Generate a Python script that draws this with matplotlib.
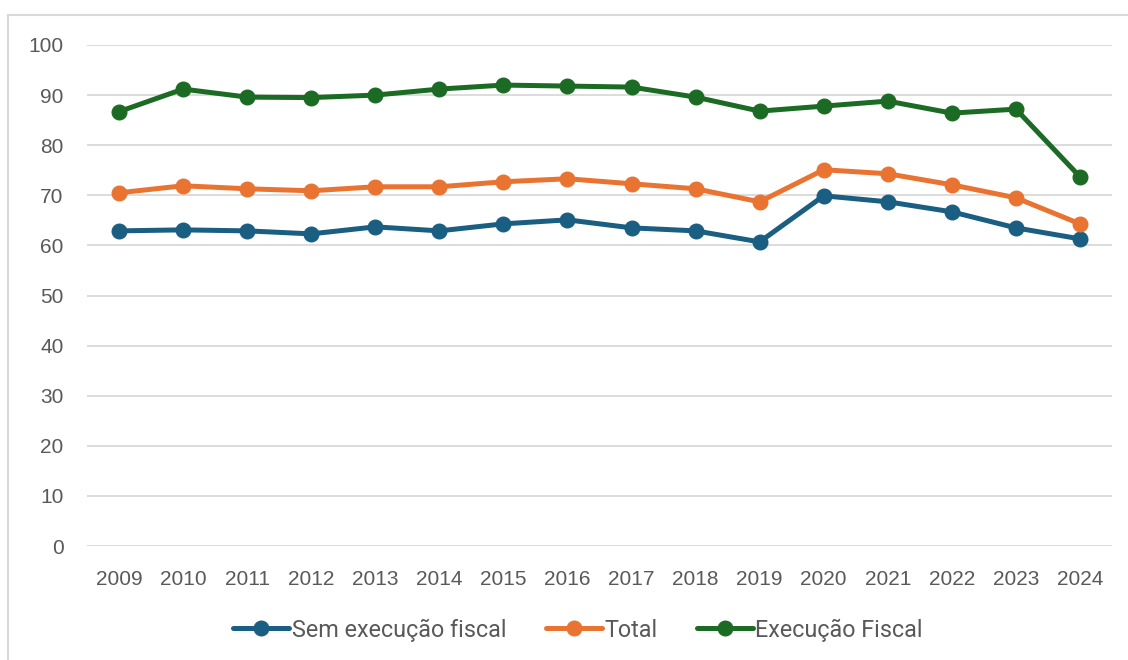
import matplotlib.pyplot as plt
from matplotlib.lines import Line2D

anos = [str(a) for a in range(2009, 2025)]
sem_execucao = [62.9, 63.1, 62.9, 62.3, 63.7, 62.9, 64.3, 65.1, 63.5, 62.9, 60.7, 69.9, 68.7, 66.7, 63.5, 61.3]
total = [70.5, 71.9, 71.3, 70.9, 71.7, 71.7, 72.7, 73.3, 72.3, 71.3, 68.7, 75.1, 74.3, 72.1, 69.5, 64.3]
execucao_fiscal = [86.7, 91.2, 89.6, 89.5, 90.0, 91.2, 92.0, 91.8, 91.6, 89.6, 86.8, 87.8, 88.8, 86.4, 87.2, 73.7]

series = [
    ("Sem execução fiscal", sem_execucao, "#1a5e82"),
    ("Total", total, "#e97432"),
    ("Execução Fiscal", execucao_fiscal, "#1c6b24"),
]

plt.rcParams['font.family'] = ['Liberation Sans', 'DejaVu Sans']

fig = plt.figure(figsize=(11.28, 6.6), dpi=100)
ax = fig.add_axes([87/1128, 1 - 546/660, (1112 - 87)/1128, (546 - 45)/660])

x = list(range(len(anos)))
for nome, valores, cor in series:
    ax.plot(x, valores, color=cor, linewidth=3.6, marker='o', markersize=10.5,
            label=nome, solid_capstyle='round', zorder=3)

ax.set_xlim(-0.5, len(anos) - 0.5)
ax.set_ylim(0, 100)
ax.set_yticks(range(0, 101, 10))
ax.set_xticks(x)
ax.set_xticklabels(anos)
ax.grid(axis='y', color='#d9d9d9', linewidth=1.3)
ax.set_axisbelow(True)
for s in ax.spines.values():
    s.set_visible(False)
ax.tick_params(length=0, labelsize=15, labelcolor='#595959')
ax.tick_params(axis='y', pad=17)
ax.tick_params(axis='x', pad=17)

leg = fig.legend(loc='center', bbox_to_anchor=(578/1128, 1 - 630/660), ncol=3,
                 frameon=False, prop={'family': 'Roboto', 'size': 16.8},
                 handlelength=2.4, handletextpad=0.1,
                 columnspacing=1.7, labelcolor='#595959')

fig.add_artist(Line2D([8/1128, 8/1128], [0, 1 - 15/660], transform=fig.transFigure,
                      color='#d9d9d9', linewidth=1.5))
fig.add_artist(Line2D([8/1128, 1], [1 - 15/660, 1 - 15/660], transform=fig.transFigure,
                      color='#d9d9d9', linewidth=1.5))

fig.savefig('out.png', dpi=100)
